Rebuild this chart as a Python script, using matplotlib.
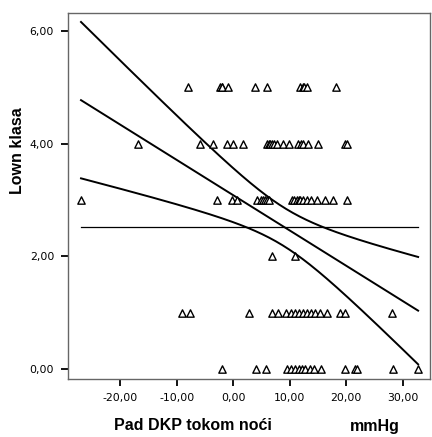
import numpy as np
import matplotlib
matplotlib.use("Agg")
import matplotlib.pyplot as plt
from matplotlib.ticker import FuncFormatter

# data (Lown class rows); filled triangles = overlapping points
x5 = [-8.0, -2.3, -2.0, -1.9, -0.9, 3.9, 6.0, 11.9, 12.3, 12.6, 13.1, 18.1]
x4 = [-16.8, -5.8, -3.5, -1.1, 0.0, 1.8, 6.0, 6.4, 6.6, 6.9, 7.3, 7.8, 8.8, 9.9, 11.5, 12.0, 12.4, 13.3,
      15.0, 19.8, 20.2]
x3 = [-26.9, -2.8, -0.2, 0.7, 4.2, 5.0, 5.3, 5.7, 6.0, 6.4, 10.4, 10.8, 11.2, 11.6, 11.9, 12.4, 13.1,
      13.8, 14.9, 16.3, 17.7, 20.2]
x2 = [6.9, 11.0]
x1 = [-9.0, -7.6, 2.8, 6.9, 8.0, 9.4, 10.3, 11.0, 11.7, 12.4, 13.1, 13.8, 14.5, 15.4, 16.6, 18.9, 19.8, 28.0]
x0 = [-1.9, 4.1, 5.8, 9.6, 10.3, 11.0, 11.7, 12.2, 12.7, 13.5, 14.3, 15.6, 19.8, 21.6, 21.9, 28.3, 32.7]
rows = {5: x5, 4: x4, 3: x3, 2: x2, 1: x1, 0: x0}

xticks = [-20, -10, 0, 10, 20, 30]
yticks = [0, 2, 4, 6]

x = np.concatenate([np.array(v, float) for v in rows.values()])
y = np.concatenate([np.full(len(v), k, float) for k, v in rows.items()])

plt.rcParams['font.family'] = ['Liberation Sans', 'DejaVu Sans']
fig = plt.figure(figsize=(4.32, 4.37), dpi=100)
ax = fig.add_axes([68/432, 1-379/437, (430-68)/432, (379-13)/437])

ax.scatter(x, y, marker='^', s=28, facecolors='white', edgecolors='black', linewidths=1.0, zorder=3)

# linear fit with 95% mean confidence band
n = len(x)
b, a = np.polyfit(x, y, 1)
xs = np.linspace(x.min(), x.max(), 200)
yh = a + b * xs
res = y - (a + b * x)
s = np.sqrt(np.sum(res**2) / (n - 2))
sxx = np.sum((x - x.mean())**2)
t = 1.99
hw = t * s * np.sqrt(1/n + (xs - x.mean())**2 / sxx)
ax.plot(xs, yh, color='black', lw=1.4)
ax.plot(xs, yh + hw, color='black', lw=1.4)
ax.plot(xs, yh - hw, color='black', lw=1.4)
ax.plot([x.min(), x.max()], [y.mean(), y.mean()], color='black', lw=0.9)

ax.set_xlim(-29.2, 34.8)
ax.set_ylim(-0.18, 6.32)
ax.set_xticks(xticks)
ax.set_yticks(yticks)
fmt = FuncFormatter(lambda v, p: f"{v:.2f}".replace('.', ','))
ax.xaxis.set_major_formatter(fmt)
ax.yaxis.set_major_formatter(fmt)
ax.tick_params(direction='out', length=5, width=1.3, pad=5)
for lab in ax.get_xticklabels() + ax.get_yticklabels():
    lab.set_fontfamily('DejaVu Sans')
    lab.set_fontsize(7.8)
for sp in ax.spines.values():
    sp.set_color('#666666')
    sp.set_linewidth(1.0)

fig.text(193/432, 1-426/437, "Pad DKP tokom noći", ha='center', va='center',
         fontsize=11.5, fontweight='bold')
fig.text(375/432, 1-426/437, "mmHg", ha='center', va='center',
         fontsize=11.5, fontweight='bold')
fig.text(18/432, 1-151/437, "Lown klasa", ha='center', va='center', rotation=90,
         fontsize=11.5, fontweight='bold')

fig.savefig("out.png", dpi=100)
